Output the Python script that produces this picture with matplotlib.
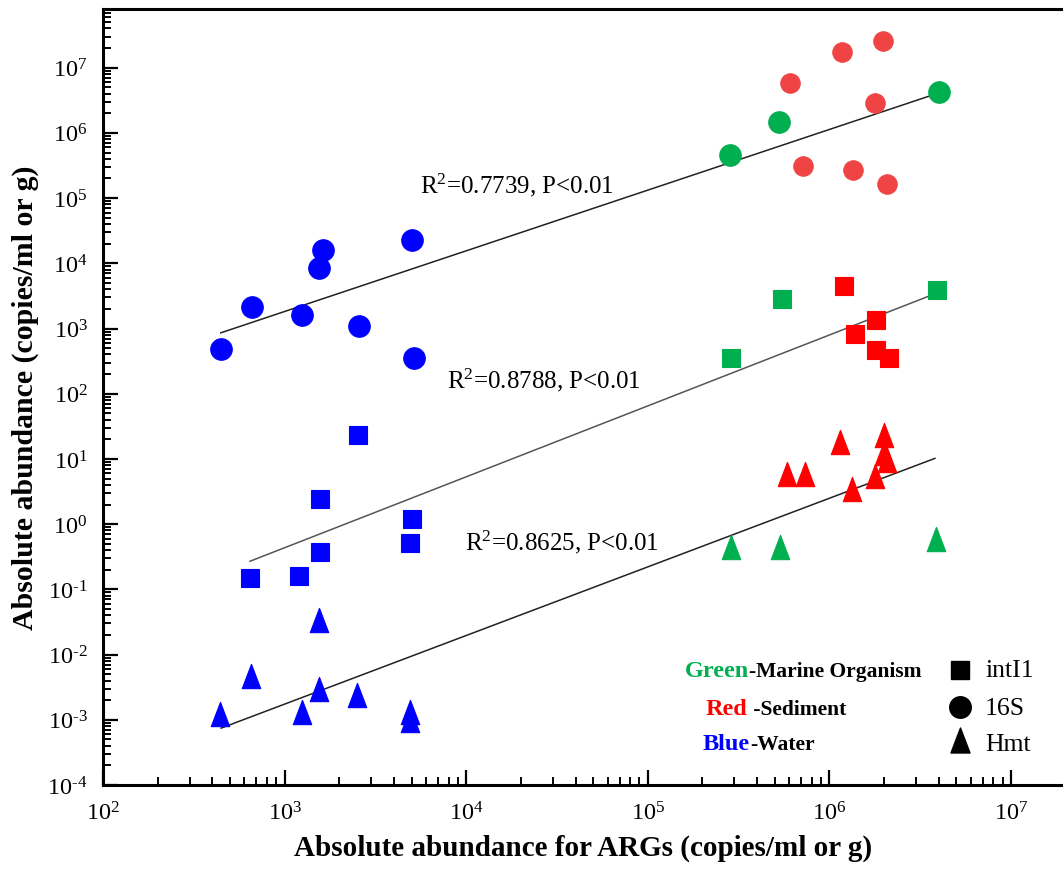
import numpy as np
import matplotlib
matplotlib.use("Agg")
import matplotlib.pyplot as plt
from matplotlib.path import Path
from matplotlib.ticker import LogLocator, FuncFormatter, NullFormatter

plt.rcParams['font.family'] = ['Liberation Serif', 'DejaVu Serif']
plt.rcParams['mathtext.fontset'] = 'custom'
plt.rcParams['mathtext.rm'] = 'Liberation Serif'
plt.rcParams['mathtext.it'] = 'Liberation Serif:italic'
plt.rcParams['mathtext.bf'] = 'Liberation Serif:bold'

# values (ARGs abundance vs gene abundance)
blue_16s_x = [445, 661, 1242, 1553, 1633, 2570, 5010, 5140]
blue_16s_y = [483, 2110, 1607, 8380, 16000, 1076, 22500, 348]
green_16s_x = [2.84e5, 5.3e5, 4.0e6]
green_16s_y = [4.61e5, 1.445e6, 4.28e6]
red_16s_x = [6.04e5, 1.178e6, 1.98e6, 1.79e6, 7.16e5, 1.355e6, 2.08e6]
red_16s_y = [5.74e6, 1.72e7, 2.54e7, 2.87e6, 3.16e5, 2.71e5, 1.67e5]

blue_int_x = [647, 1205, 1560, 1560, 2548, 5050, 4920]
blue_int_y = [0.150, 0.159, 0.372, 2.39, 23.3, 1.18, 0.517]
green_int_x = [2.88e5, 5.5e5, 3.92e6]
green_int_y = [348, 2800, 3930]
red_int_x = [1.2e6, 1.81e6, 1.38e6, 1.81e6, 2.12e6]
red_int_y = [4480, 1330, 820, 461, 348]

blue_hmt_x = [441, 650, 1553, 1553, 1242, 2506, 4920, 4920]
blue_hmt_y = [0.00124, 0.00474, 0.0335, 0.00296, 0.00134, 0.00242, 0.00134, 0.00099]
green_hmt_x = [2.88e5, 5.32e5, 3.85e6]
green_hmt_y = [0.454, 0.454, 0.594]
red_hmt_x = [1.14e6, 5.82e5, 7.31e5, 1.337e6, 2.0e6, 2.0e6, 2.07e6, 1.78e6]
red_hmt_y = [18.5, 5.8, 5.8, 3.45, 23.3, 12.2, 9.5, 5.4]

# fitted lines (end points)
fit_16s_x = [445, 3.55e6]
fit_16s_y = [859, 3.67e6]
fit_int_x = [645, 3.5e6]
fit_int_y = [0.27, 3110]
fit_hmt_x = [447, 3.81e6]
fit_hmt_y = [7.45e-4, 10.2]

fit_labels = [r'R$^{2}$=0.7739, P<0.01', r'R$^{2}$=0.8788, P<0.01', r'R$^{2}$=0.8625, P<0.01']
fit_label_x = [5570, 7830, 9840]
fit_label_y = [1.24e5, 126, 0.408]

BLUE = '#0000FF'
GREEN = '#00B050'
RED = '#FF0000'
RED_LIGHT = '#F04444'

tri = Path([(0, 1), (-0.76, -1), (0.76, -1), (0, 1)],
           [Path.MOVETO, Path.LINETO, Path.LINETO, Path.CLOSEPOLY])

W, H = 1063, 870
fig = plt.figure(figsize=(W / 100, H / 100), dpi=100)
L, R, T, B = 103, 1063, 10, 786
ax = fig.add_axes([L / W, 1 - B / H, (R - L) / W, (B - T) / H])

xmax = 10 ** (2 + (R - L) / 181.6)
ax.set_xscale('log')
ax.set_yscale('log')
ax.set_xlim(1e2, xmax)
ax.set_ylim(1e-4, 10 ** 7.9)

for fx_, fy_, c in [(fit_16s_x, fit_16s_y, '#222222'),
                    (fit_int_x, fit_int_y, '#555555'),
                    (fit_hmt_x, fit_hmt_y, '#222222')]:
    ax.plot(fx_, fy_, color=c, lw=1.1, zorder=2)

def pts(x, y, color, marker, ms):
    ax.plot(x, y, linestyle='none', marker=marker, ms=ms, color=color,
            mec=color, mew=0.8, zorder=3)

pts(blue_16s_x, blue_16s_y, BLUE, 'o', 15.5)
pts(green_16s_x, green_16s_y, GREEN, 'o', 15.5)
pts(red_16s_x, red_16s_y, RED_LIGHT, 'o', 14)
pts(blue_int_x, blue_int_y, BLUE, 's', 13.5)
pts(green_int_x, green_int_y, GREEN, 's', 13.5)
pts(red_int_x, red_int_y, RED, 's', 13.5)
pts(blue_hmt_x, blue_hmt_y, BLUE, tri, 17.5)
pts(green_hmt_x, green_hmt_y, GREEN, tri, 17.5)
pts(red_hmt_x, red_hmt_y, RED, tri, 17.5)

for s, x, y in zip(fit_labels, fit_label_x, fit_label_y):
    ax.text(x, y, s, fontsize=18, va='baseline', ha='left')

# axes styling
for side in ['left', 'bottom', 'top']:
    ax.spines[side].set_linewidth(2.2)
ax.spines['right'].set_visible(False)

def pow_label(v, pos):
    e = int(round(np.log10(v)))
    ex = str(e) if e >= 0 else r'\text{-}' + str(-e)
    return r'$\mathdefault{10^{' + ex + '}}$'

for axis in (ax.xaxis, ax.yaxis):
    axis.set_major_locator(LogLocator(base=10, numticks=20))
    axis.set_minor_locator(LogLocator(base=10, subs=np.arange(2, 10), numticks=20))
    axis.set_major_formatter(FuncFormatter(pow_label))
    axis.set_minor_formatter(NullFormatter())
ax.tick_params(which='major', direction='in', length=11, width=1.6, labelsize=17.5,
               top=False, right=False)
ax.tick_params(which='minor', direction='in', length=6, width=1.4, top=False, right=False)
ax.tick_params(axis='x', which='major', pad=12)
ax.tick_params(axis='y', which='major', pad=11)

ax.set_xlabel('Absolute abundance for ARGs (copies/ml or g)', fontsize=21,
              fontweight='bold', labelpad=6)
ax.set_ylabel('Absolute abundance (copies/ml or g)', fontsize=21.5,
              fontweight='bold', labelpad=6)

# legend made of text pieces
def fx(px):
    return px / W

def fy(py):
    return 1 - py / H

groups = [('Green', GREEN, '-Marine Organism', 685, 677),
          ('Red', RED, ' -Sediment', 706, 715),
          ('Blue', BLUE, '-Water', 703, 750)]
for word, col, rest, px, py in groups:
    t1 = fig.text(fx(px), fy(py), word, color=col, fontsize=17.5,
                  fontweight='bold', va='baseline')
    ax.annotate(rest, xy=(1, 0), xycoords=t1, fontsize=15.5, fontweight='bold',
                va='bottom', ha='left', color='black')

sym = [('s', 'intI1', 671, 677, 13.5), ('o', '16S', 708, 715, 15.5),
       (tri, 'Hmt', 741, 751, 18)]
for m, lab, my, ty, ms in sym:
    ax.plot([fx(960)], [fy(my)], marker=m, ms=ms, color='black', mec='black',
            transform=fig.transFigure, clip_on=False, linestyle='none')
    fig.text(fx(985), fy(ty), lab, fontsize=18.5, va='baseline')

fig.savefig('out.png', dpi=100)
